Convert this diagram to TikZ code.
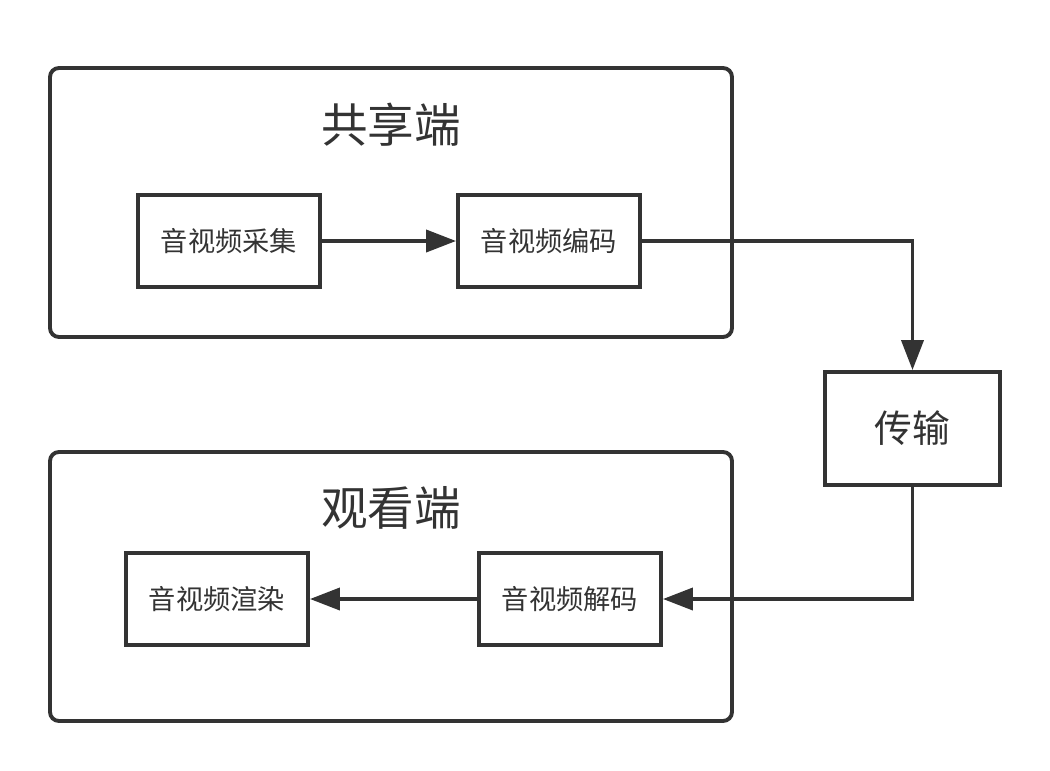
\documentclass[tikz,border=0pt]{standalone}
\usepackage{fontspec}
\newfontfamily\cjk{Noto Sans CJK SC}
\usetikzlibrary{arrows.meta, positioning}
\definecolor{ink}{HTML}{333333}
\tikzset{
  frame/.style = {draw=ink, line width=2.2pt, rounded corners=0.18cm, minimum width=13.64cm, minimum height=5.38cm},
  title/.style = {font=\cjk\fontsize{26.5}{30}\selectfont, text=ink},
  stage/.style = {draw=ink, line width=2.2pt, fill=white, minimum width=3.64cm, minimum height=1.84cm, font=\cjk\fontsize{15.5}{18}\selectfont, text=ink},
  flow/.style = {draw=ink, line width=2.2pt, -{Triangle[length=0.6cm, width=0.44cm]}}
}
\begin{document}
\begin{tikzpicture}
\useasboundingbox (0,0) rectangle (21,-15.4);
\node[frame] (share) at (7.82,-4.05) {};
\node[frame] (watch) at (7.82,-11.73) {};
\node[title] (shareT) at (7.82,-2.5) {共享端};
\node[title] (watchT) at (7.82,-10.16) {观看端};
\node[stage] (capture) at (4.58,-4.82) {音视频采集};
\node[stage] (encode) at (10.98,-4.82) {音视频编码};
\node[stage, minimum width=3.5cm, minimum height=2.26cm, font=\cjk\fontsize{21.5}{24}\selectfont] (trans) at (18.25,-8.57) {传输};
\node[stage] (decode) at (11.4,-11.98) {音视频解码};
\node[stage] (render) at (4.34,-11.98) {音视频渲染};
\draw[flow] (capture) -- (encode);
\draw[flow] (encode.east) -| (trans.north);
\draw[flow] (trans.south) |- (decode.east);
\draw[flow] (decode) -- (render);
\end{tikzpicture}
\end{document}
